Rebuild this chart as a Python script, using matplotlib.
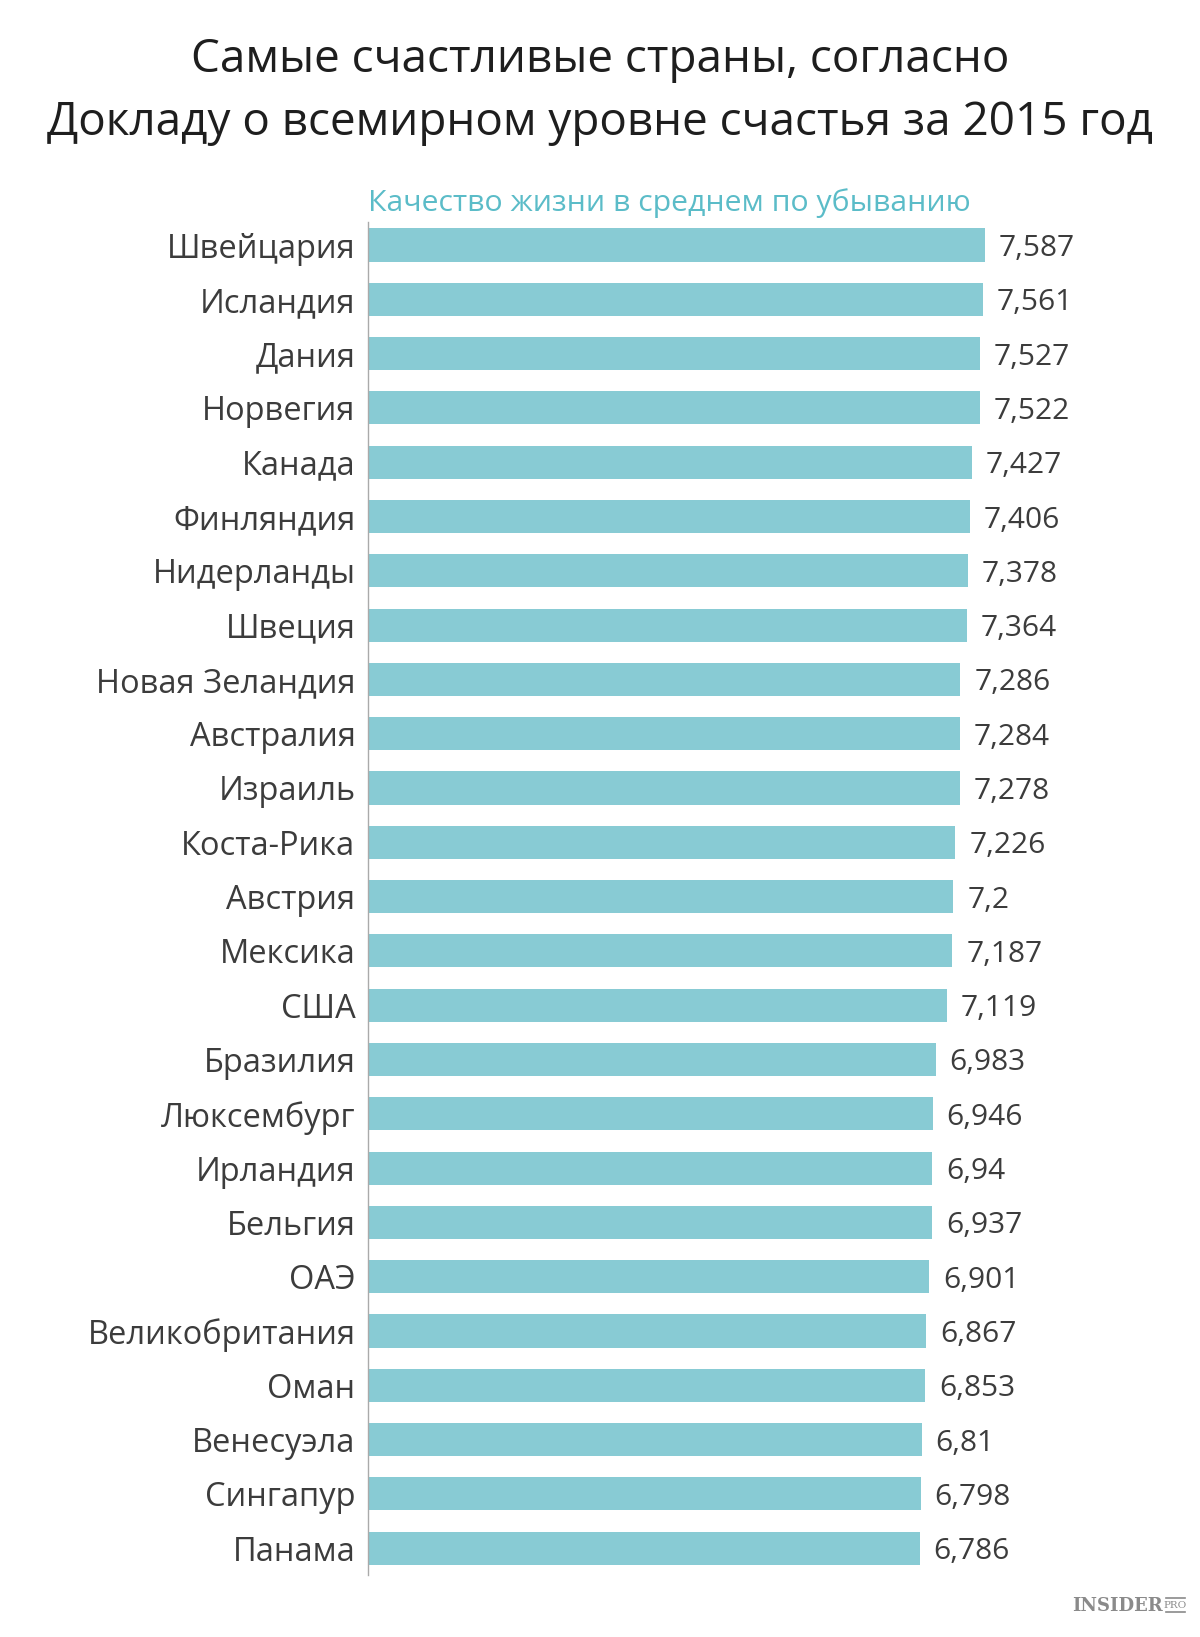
import matplotlib
matplotlib.use("Agg")
import matplotlib.pyplot as plt

# data
countries = ["Швейцария", "Исландия", "Дания", "Норвегия", "Канада", "Финляндия",
             "Нидерланды", "Швеция", "Новая Зеландия", "Австралия", "Израиль",
             "Коста-Рика", "Австрия", "Мексика", "США", "Бразилия", "Люксембург",
             "Ирландия", "Бельгия", "ОАЭ", "Великобритания", "Оман", "Венесуэла",
             "Сингапур", "Панама"]
scores = [7.587, 7.561, 7.527, 7.522, 7.427, 7.406, 7.378, 7.364, 7.286, 7.284,
          7.278, 7.226, 7.2, 7.187, 7.119, 6.983, 6.946, 6.94, 6.937, 6.901,
          6.867, 6.853, 6.81, 6.798, 6.786]
score_labels = ["7,587", "7,561", "7,527", "7,522", "7,427", "7,406", "7,378", "7,364",
                "7,286", "7,284", "7,278", "7,226", "7,2", "7,187", "7,119", "6,983",
                "6,946", "6,94", "6,937", "6,901", "6,867", "6,853", "6,81", "6,798",
                "6,786"]

title_lines = ["Самые счастливые страны, согласно",
               "Докладу о всемирном уровне счастья за 2015 год"]
subtitle = "Качество жизни в среднем по убыванию"

# config
W, H = 1200, 1637
bar_color = "#88cbd4"
teal = "#5bbcc8"
text_color = "#3c3c3c"
plt.rcParams["font.family"] = ["Open Sans", "DejaVu Sans"]

fig = plt.figure(figsize=(W / 100, H / 100), dpi=100)

# axes placement in pixels
ax_left, ax_right = 368, 1200
ax_top, ax_bottom = 222, 1575
ax = fig.add_axes([ax_left / W, 1 - ax_bottom / H, (ax_right - ax_left) / W, (ax_bottom - ax_top) / H])

px_per_unit = 81.3
ypos = list(range(len(countries)))
ax.barh(ypos, scores, height=0.61, color=bar_color, zorder=2)
ax.set_xlim(0, (ax_right - ax_left) / px_per_unit)
row = 54.3
ax.set_ylim(24 + (ax_bottom - 245 - 24 * row) / row, -(245 - ax_top) / row)

for y, v, lab in zip(ypos, scores, score_labels):
    ax.annotate(lab, (v, y), xytext=(10, 0), textcoords="offset points",
                ha="left", va="center_baseline", fontsize=21.5, color=text_color)

ax.set_yticks(ypos)
ax.set_yticklabels(countries, fontsize=23.5, color=text_color, va="center_baseline")
ax.tick_params(axis="y", length=0, pad=9)
ax.set_xticks([])
for s in ["top", "right", "bottom"]:
    ax.spines[s].set_visible(False)
ax.spines["left"].set_color("#aaaaaa")
ax.spines["left"].set_linewidth(1)

fig.text(0.5, 1 - 60 / H, title_lines[0], ha="center", va="center", fontsize=33, color="#1e1e1e")
fig.text(0.5, 1 - 123 / H, title_lines[1], ha="center", va="center", fontsize=33, color="#1e1e1e")
fig.text(ax_left / W, 1 - 203 / H, subtitle, ha="left", va="center", fontsize=21.8, color=teal)

# logo
logo_grey = "#8a8a8a"
fig.text(1163 / W, 1 - 1606 / H, "INSIDER", ha="right", va="center", fontsize=13,
         family="DejaVu Serif", weight="bold", color=logo_grey)
fig.text(1175 / W, 1 - 1605 / H, "PRO", ha="center", va="center", fontsize=7.5,
         family="DejaVu Serif", color=logo_grey)
for yy in (1598, 1612):
    fig.add_artist(plt.Line2D([1166 / W, 1185 / W], [1 - yy / H, 1 - yy / H],
                              color=logo_grey, lw=1.2))

fig.savefig("out.png", dpi=100)
